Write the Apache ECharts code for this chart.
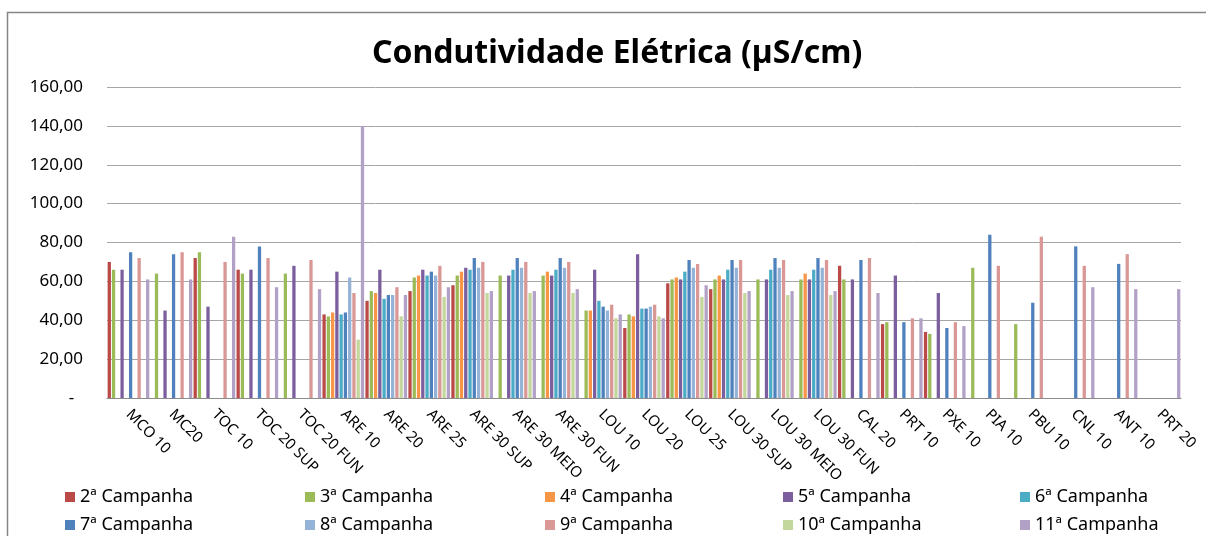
<!DOCTYPE html>
<html>
<head>
<meta charset="utf-8">
<script src="https://cdn.jsdelivr.net/npm/echarts@6/dist/echarts.min.js"></script>
<style>
  html, body { margin: 0; padding: 0; background: #fff; }
  #chart { width: 1206px; height: 536px; }
</style>
</head>
<body>
<div id="chart"></div>
<script>
// pontos de coleta
var pontos = ['MCO 10', 'MC20', 'TOC 10', 'TOC 20 SUP', 'TOC 20 FUN', 'ARE 10', 'ARE 20', 'ARE 25',
  'ARE 30 SUP', 'ARE 30 MEIO', 'ARE 30 FUN', 'LOU 10', 'LOU 20', 'LOU 25', 'LOU 30 SUP',
  'LOU 30 MEIO', 'LOU 30 FUN', 'CAL 20', 'PRT 10', 'PXE 10', 'PIA 10', 'PBU 10', 'CNL 10',
  'ANT 10', 'PRT 20'];

var campanhas = ['2ª Campanha', '3ª Campanha', '4ª Campanha', '5ª Campanha', '6ª Campanha',
  '7ª Campanha', '8ª Campanha', '9ª Campanha', '10ª Campanha', '11ª Campanha'];

var _ = null;
var camp2  = [70, _, 72, 66, _, 43, 50, 55, 58, _, _, _, 36, 59, 56, _, _, 68, 38, 34, _, _, _, _, _];
var camp3  = [66, 64, 75, 64, 64, 42, 55, 62, 63, 63, 63, 45, 43, 61, 61, 61, 61, 61, 39, 33, 67, 38, _, _, _];
var camp4  = [_, _, _, _, _, 44, 54, 63, 65, _, 65, 45, 42, 62, 63, _, 64, _, _, _, _, _, _, _, _];
var camp5  = [66, 45, 47, 66, 68, 65, 66, 66, 67, 63, 63, 66, 74, 61, 61, 61, 61, 61, 63, 54, _, _, _, _, _];
var camp6  = [_, _, _, _, _, 43, 51, 63, 66, 66, 66, 50, 46, 65, 66, 66, 66, _, _, _, _, _, _, _, _];
var camp7  = [75, 74, _, 78, _, 44, 53, 65, 72, 72, 72, 47, 46, 71, 71, 72, 72, 71, 39, 36, 84, 49, 78, 69, _];
var camp8  = [_, _, _, _, _, 62, 53, 63, 67, 67, 67, 45, 47, 67, 67, 67, 67, _, _, _, _, _, _, _, _];
var camp9  = [72, 75, 70, 72, 71, 54, 57, 68, 70, 70, 70, 48, 48, 69, 71, 71, 71, 72, 41, 39, 68, 83, 68, 74, _];
var camp10 = [_, _, _, _, _, 30, 42, 52, 54, 54, 54, 41, 42, 52, 54, 53, 53, _, _, _, _, _, _, _, _];
var camp11 = [61, 61, 83, 57, 56, 140, 53, 57, 55, 55, 56, 43, 41, 58, 55, 55, 55, 54, 41, 37, _, _, 57, 56, 56];

var valores = [camp2, camp3, camp4, camp5, camp6, camp7, camp8, camp9, camp10, camp11];
var cores = ['#B94A48', '#9BBB59', '#F79646', '#7A5E9E', '#4BACC6', '#4F81BD', '#95B3D7', '#D99795', '#C3D69B', '#B2A1C7'];

var fonte = 'Noto Sans';

var series = campanhas.map(function (nome, i) {
  return {
    name: nome,
    type: 'bar',
    data: valores[i],
    itemStyle: { color: cores[i] },
    barGap: '30%',
    barCategoryGap: '3%'
  };
});

// legenda: 5 colunas x 2 linhas, um componente por item
var colunasX = [60, 300, 540, 778, 1015];
var linhasY = [483, 511];
var legendas = campanhas.map(function (nome, i) {
  return {
    left: colunasX[i % 5],
    top: linhasY[Math.floor(i / 5)],
    itemWidth: 10,
    itemHeight: 10,
    icon: 'rect',
    data: [nome],
    textStyle: { fontFamily: fonte, fontSize: 18, color: '#000' }
  };
});

var chart = echarts.init(document.getElementById('chart'));
chart.setOption({
  animation: false,
  color: cores,
  title: {
    text: 'Condutividade Elétrica (µS/cm)',
    left: 367,
    top: 33,
    textStyle: { fontFamily: fonte, fontSize: 32, fontWeight: 'bold', color: '#000' }
  },
  graphic: [{
    type: 'rect',
    shape: { x: 7.5, y: 12.5, width: 1230, height: 560 },
    style: { fill: 'none', stroke: '#868686', lineWidth: 1.5 },
    silent: true
  }],
  legend: legendas,
  grid: { left: 107, right: 25, top: 87, bottom: 138 },
  xAxis: {
    type: 'category',
    data: pontos,
    axisTick: { show: false },
    axisLine: { lineStyle: { color: '#8C8C8C', width: 1 } },
    axisLabel: {
      rotate: -45,
      interval: 0,
      margin: 14,
      fontFamily: fonte,
      fontSize: 15,
      color: '#000'
    }
  },
  yAxis: {
    type: 'value',
    min: 0,
    max: 160,
    interval: 20,
    axisLine: { show: false },
    axisTick: { show: false },
    splitLine: { lineStyle: { color: '#A6A6A6', width: 1 } },
    axisLabel: {
      margin: 24,
      fontFamily: fonte,
      fontSize: 17,
      color: '#000',
      formatter: function (v) {
        return v === 0 ? '-  ' : v.toFixed(2).replace('.', ',');
      }
    }
  },
  series: series
});
</script>
</body>
</html>
